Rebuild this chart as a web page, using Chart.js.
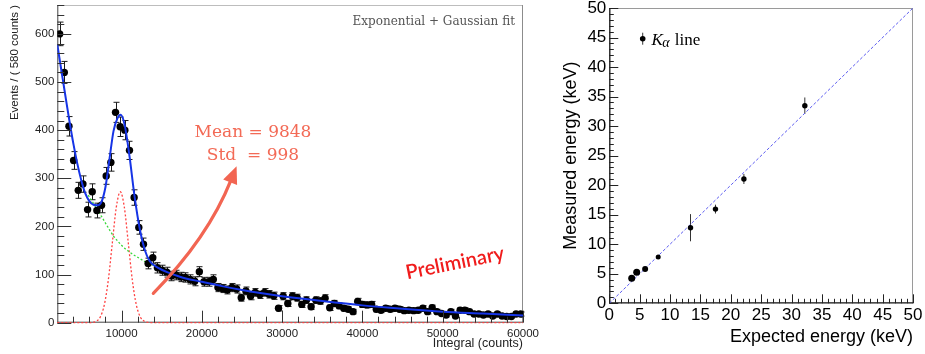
<!DOCTYPE html>
<html>
<head>
<meta charset="utf-8">
<script src="https://cdn.jsdelivr.net/npm/chart.js@4.4.1/dist/chart.umd.min.js"></script>
<style>
  html, body { margin: 0; padding: 0; background: #fff; }
  body { width: 925px; height: 354px; position: relative; overflow: hidden; }
  #spec { position: absolute; left: 0; top: 0; }
  #calib { position: absolute; left: 540px; top: 0; }
</style>
</head>
<body>
<canvas id="spec" width="540" height="354"></canvas>
<canvas id="calib" width="385" height="354"></canvas>
<script>
// ---------- Integral spectrum: 100 bins of 580 counts from 2000 ----------
const binStart = 2000;
const binWidth = 580;
const eventCounts = [
  600, 520, 408, 337, 275, 288, 235, 272, 233, 244,
  305, 333, 437, 407, 400, 358, 260, 198, 163, 123,
  135, 114, 109, 105, 97, 99, 95, 94, 90, 86,
  106, 85, 85, 90, 73, 71, 68, 73, 70, 52,
  66, 55, 63, 58, 63, 59, 56, 30, 55, 40,
  55, 52, 38, 47, 33, 47, 45, 51, 31, 40,
  35, 30, 28, 23, 44, 38, 37, 38, 28, 26,
  30, 28, 30, 28, 25, 26, 25, 26, 30, 23,
  31, 23, 19, 16, 23, 14, 26, 26, 23, 18,
  18, 16, 18, 14, 18, 14, 13, 13, 18, 18
];
const eventErrors = [
  24.5, 22.8, 20.2, 18.4, 16.6, 17.0, 15.3, 16.5, 15.3, 15.6,
  17.5, 18.2, 20.9, 20.2, 20.0, 18.9, 16.1, 14.1, 12.8, 11.1,
  11.6, 10.7, 10.4, 10.2, 9.8, 9.9, 9.7, 9.7, 9.5, 9.3,
  10.3, 9.2, 9.2, 9.5, 8.5, 8.4, 8.2, 8.5, 8.4, 7.2,
  8.1, 7.4, 7.9, 7.6, 7.9, 7.7, 7.5, 5.5, 7.4, 6.3,
  7.4, 7.2, 6.2, 6.9, 5.7, 6.9, 6.7, 7.1, 5.6, 6.3,
  5.9, 5.5, 5.3, 4.8, 6.6, 6.2, 6.1, 6.2, 5.3, 5.1,
  5.5, 5.3, 5.5, 5.3, 5.0, 5.1, 5.0, 5.1, 5.5, 4.8,
  5.6, 4.8, 4.4, 4.0, 4.8, 3.7, 5.1, 5.1, 4.8, 4.2,
  4.2, 4.0, 4.2, 3.7, 4.2, 3.7, 3.6, 3.6, 4.2, 4.2
];

// Total fit (exponential + Gaussian), sampled
const fitX = [2000, 2500, 3000, 3500, 4000, 4500, 5000, 5500, 6000, 6500,
              7000, 7500, 8000, 8500, 9000, 9500, 9900, 10400, 11000, 11600,
              12300, 12900, 13500, 14000, 15000, 16000, 17000, 18000, 20000, 22500,
              25000, 27500, 30000, 35000, 40000, 45000, 50000, 55000, 60000];
const fitTotal = [578, 525, 472, 420, 372, 330, 295, 268, 252, 245,
                  244, 251, 282, 340, 398, 425, 432, 410, 345, 265,
                  192, 151, 128, 120, 110, 103, 97, 92, 85, 76,
                  68, 61, 55, 45, 36, 29, 23, 19, 15];

// Exponential background component
const bkgX = [5850, 6500, 7000, 7500, 8000, 8500, 9000, 9500, 10000, 10500,
              11000, 11500, 12000, 12500, 13000, 13500, 14000, 15000, 16000];
const bkgY = [265, 248, 235, 221, 207, 193, 180, 170, 161, 153,
              147, 141, 136, 131, 126, 122, 119, 110, 103];

// Gaussian signal component (mean 9848, std 998)
const sigMean = 9848;
const sigStd = 998;
const sigX = [2000, 5856, 6355, 6854, 7353, 7852, 8351, 8850, 9349, 9848,
              10347, 10846, 11345, 11844, 12343, 12842, 13341, 13840, 60000];
const sigY = [0, 0.1, 0.6, 3.0, 11.9, 36.8, 88.3, 165, 240, 272,
              240, 165, 88.3, 36.8, 11.9, 3.0, 0.6, 0.1, 0];

const spectrumXTicks = [10000, 20000, 30000, 40000, 50000, 60000];
const spectrumYTicks = [0, 100, 200, 300, 400, 500, 600];

// ---------- Energy calibration: K-alpha lines ----------
const kaExpected = [3.69, 4.51, 5.90, 8.05, 13.37, 17.48, 22.16, 32.19];
const kaMeasured = [4.25, 5.25, 5.80, 7.85, 12.80, 15.95, 21.05, 33.45];
const kaError = [0.3, 0.4, 0.3, 0.3, 2.3, 0.75, 0.85, 1.4];
const kaMarker = [3.5, 3.5, 3.0, 2.5, 2.7, 2.7, 2.7, 2.7];
const energyTicks = [0, 5, 10, 15, 20, 25, 30, 35, 40, 45, 50];

Chart.defaults.font.family = "'Liberation Sans', Arial, sans-serif";

const binCenter = i => binStart + binWidth * (i + 0.5);
const toPoints = (xs, ys) => xs.map((x, i) => ({ x, y: ys[i] }));

function seg(ctx, x1, y1, x2, y2) {
  ctx.beginPath(); ctx.moveTo(x1, y1); ctx.lineTo(x2, y2); ctx.stroke();
}

// Inward ROOT-style tick marks along the left and bottom axes
function drawInwardTicks(chart, o) {
  const { ctx, chartArea: a, scales: { x, y } } = chart;
  ctx.save();
  ctx.strokeStyle = o.color;
  ctx.lineWidth = 1;
  ctx.beginPath();
  for (let v = o.xFrom; v <= x.max + 1e-6; v += o.xMinor) {
    const p = Math.round(x.getPixelForValue(v)) + 0.5;
    const len = o.xMajors.includes(v) ? o.xMajorLen : o.xMinorLen;
    ctx.moveTo(p, a.bottom); ctx.lineTo(p, a.bottom - len);
  }
  for (let v = o.yFrom; v <= y.max + 1e-6; v += o.yMinor) {
    const p = Math.round(y.getPixelForValue(v)) + 0.5;
    const len = o.yMajors.includes(v) ? o.yMajorLen : o.yMinorLen;
    ctx.moveTo(a.left, p); ctx.lineTo(a.left + len, p);
  }
  ctx.stroke();
  ctx.restore();
}

const spectrumDecor = {
  id: 'spectrumDecor',
  beforeDatasetsDraw(chart) {
    const { ctx, chartArea: a, scales: { x, y } } = chart;
    ctx.save();
    ctx.lineWidth = 1;
    ctx.strokeStyle = '#bdbdbd';
    seg(ctx, a.left, a.top + 0.5, a.right, a.top + 0.5);
    ctx.strokeStyle = '#8c8c8c';
    seg(ctx, a.right - 0.5, a.top, a.right - 0.5, a.bottom);
    ctx.strokeStyle = '#444';
    seg(ctx, a.left + 0.5, a.top, a.left + 0.5, a.bottom);
    seg(ctx, a.left, a.bottom - 0.5, a.right, a.bottom - 0.5);

    // Poisson error bars with end caps
    ctx.strokeStyle = '#1a1a1a';
    ctx.beginPath();
    eventCounts.forEach((c, i) => {
      const px = Math.round(x.getPixelForValue(binCenter(i))) + 0.5;
      const t = y.getPixelForValue(c + eventErrors[i]);
      const b = y.getPixelForValue(c - eventErrors[i]);
      ctx.moveTo(px, t); ctx.lineTo(px, b);
      ctx.moveTo(px - 3, t); ctx.lineTo(px + 3, t);
      ctx.moveTo(px - 3, b); ctx.lineTo(px + 3, b);
    });
    ctx.stroke();
    ctx.restore();
  },
  afterDatasetsDraw(chart) {
    const { ctx, scales: { x, y } } = chart;
    drawInwardTicks(chart, {
      color: '#333',
      xFrom: 4000, xMinor: 2000, xMajors: spectrumXTicks, xMajorLen: 12, xMinorLen: 6,
      yFrom: 0, yMinor: 20, yMajors: spectrumYTicks, yMajorLen: 14, yMinorLen: 7
    });

    ctx.save();
    // fit label
    ctx.fillStyle = '#555';
    ctx.font = "12px 'DejaVu Serif', serif";
    ctx.textAlign = 'right';
    ctx.textBaseline = 'middle';
    ctx.fillText('Exponential + Gaussian fit', x.getPixelForValue(59000), y.getPixelForValue(624));

    // Gaussian parameters
    ctx.fillStyle = '#f36a56';
    ctx.font = "17px 'DejaVu Serif', serif";
    ctx.textAlign = 'center';
    ctx.fillText('Mean = ' + sigMean, x.getPixelForValue(26370), y.getPixelForValue(394));
    ctx.fillText('Std  = ' + sigStd, x.getPixelForValue(26370), y.getPixelForValue(348));

    // curved arrow pointing at the parameters
    const sx = x.getPixelForValue(13955), sy = y.getPixelForValue(61);
    const cx = x.getPixelForValue(20730), cy = y.getPixelForValue(175);
    const ex = x.getPixelForValue(23630), ey = y.getPixelForValue(296);
    const tx = x.getPixelForValue(24330), ty = y.getPixelForValue(325);
    ctx.strokeStyle = '#f26552';
    ctx.fillStyle = '#f26552';
    ctx.lineWidth = 3.2;
    ctx.lineCap = 'round';
    ctx.beginPath();
    ctx.moveTo(sx, sy);
    ctx.quadraticCurveTo(cx, cy, ex, ey);
    ctx.stroke();
    const dx = tx - ex, dy = ty - ey, dl = Math.hypot(dx, dy);
    const nx = -dy / dl, ny = dx / dl;
    ctx.beginPath();
    ctx.moveTo(tx, ty);
    ctx.lineTo(ex + nx * 7.5 - dx * 0.15, ey + ny * 7.5 - dy * 0.15);
    ctx.lineTo(ex - nx * 7.5 - dx * 0.15, ey - ny * 7.5 - dy * 0.15);
    ctx.closePath();
    ctx.fill();

    // stamp
    ctx.translate(x.getPixelForValue(51530), y.getPixelForValue(124));
    ctx.rotate(-11.5 * Math.PI / 180);
    ctx.fillStyle = '#f01c1c';
    ctx.font = "600 20px Lato, 'Open Sans', sans-serif";
    ctx.textAlign = 'center';
    ctx.textBaseline = 'middle';
    ctx.fillText('Preliminary', 0, 0);
    ctx.restore();
  }
};

new Chart(document.getElementById('spec'), {
  type: 'scatter',
  data: {
    datasets: [
      {
        label: 'Fit',
        data: toPoints(fitX, fitTotal),
        showLine: true,
        borderColor: '#1634e6',
        borderWidth: 2,
        pointRadius: 0,
        cubicInterpolationMode: 'monotone',
        order: 0
      },
      {
        label: 'Data',
        data: eventCounts.map((c, i) => ({ x: binCenter(i), y: c })),
        pointRadius: 3.7,
        pointBackgroundColor: '#000',
        pointBorderWidth: 0,
        order: 1
      },
      {
        label: 'Background',
        data: toPoints(bkgX, bkgY),
        showLine: true,
        borderColor: '#3ad83a',
        borderWidth: 1.3,
        borderDash: [2, 2],
        pointRadius: 0,
        cubicInterpolationMode: 'monotone',
        order: 2
      },
      {
        label: 'Signal',
        data: toPoints(sigX, sigY),
        showLine: true,
        borderColor: '#ff4040',
        borderWidth: 1.3,
        borderDash: [2, 2],
        pointRadius: 0,
        cubicInterpolationMode: 'monotone',
        clip: 3,
        order: 2
      }
    ]
  },
  options: {
    responsive: false,
    animation: false,
    events: [],
    layout: { padding: { left: 0, top: 5, right: 17, bottom: 0 } },
    plugins: { legend: { display: false }, tooltip: { enabled: false } },
    scales: {
      x: {
        type: 'linear',
        min: 2000,
        max: 60000,
        afterBuildTicks: s => { s.ticks = spectrumXTicks.map(v => ({ value: v })); },
        afterFit: s => { s.height = 31.3; s.paddingLeft = 0; s.paddingRight = 0; },
        grid: { display: false, drawTicks: false },
        border: { display: false },
        ticks: {
          autoSkip: false, maxRotation: 0, padding: 4,
          color: '#222', font: { size: 11.5 },
          callback: v => String(v)
        },
        title: {
          display: true, text: 'Integral (counts)', align: 'end',
          color: '#222', font: { size: 12.5 }, padding: { top: 0, bottom: 2.5 }
        }
      },
      y: {
        type: 'linear',
        min: 0,
        max: 660,
        afterBuildTicks: s => { s.ticks = spectrumYTicks.map(v => ({ value: v })); },
        afterFit: s => { s.width = 57.3; s.paddingTop = 0; s.paddingBottom = 0; },
        grid: { display: false, drawTicks: false },
        border: { display: false },
        ticks: {
          autoSkip: false, padding: 3,
          color: '#222', font: { size: 11.5 },
          callback: v => String(v)
        },
        title: {
          display: true, text: 'Events / ( 580 counts )', align: 'end',
          color: '#222', font: { size: 11.5 }, padding: { top: 8, bottom: 0 }
        }
      }
    }
  },
  plugins: [spectrumDecor]
});

// ---------- Calibration panel ----------
const calibDecor = {
  id: 'calibDecor',
  beforeDatasetsDraw(chart) {
    const { ctx, chartArea: a, scales: { x, y } } = chart;
    ctx.save();
    ctx.lineWidth = 1;
    ctx.strokeStyle = '#9a9a9a';
    seg(ctx, a.left, a.top + 0.5, a.right, a.top + 0.5);
    seg(ctx, a.right - 0.5, a.top, a.right - 0.5, a.bottom);
    ctx.strokeStyle = '#111';
    ctx.lineWidth = 1.3;
    seg(ctx, a.left + 0.5, a.top, a.left + 0.5, a.bottom);
    seg(ctx, a.left, a.bottom - 0.5, a.right, a.bottom - 0.5);

    ctx.lineWidth = 1;
    ctx.strokeStyle = '#333';
    ctx.beginPath();
    kaExpected.forEach((e, i) => {
      const px = x.getPixelForValue(e);
      ctx.moveTo(px, y.getPixelForValue(kaMeasured[i] + kaError[i]));
      ctx.lineTo(px, y.getPixelForValue(kaMeasured[i] - kaError[i]));
    });
    ctx.stroke();
    ctx.restore();
  },
  afterDatasetsDraw(chart) {
    const { ctx, scales: { x, y } } = chart;
    drawInwardTicks(chart, {
      color: '#222',
      xFrom: 0, xMinor: 1, xMajors: energyTicks, xMajorLen: 9, xMinorLen: 4.5,
      yFrom: 0, yMinor: 1, yMajors: energyTicks, yMajorLen: 9, yMinorLen: 4.5
    });

    // legend entry
    ctx.save();
    const mx = x.getPixelForValue(5.5), my = y.getPixelForValue(44.8);
    ctx.strokeStyle = '#333';
    ctx.lineWidth = 1;
    seg(ctx, mx, my - 6, mx, my + 6);
    ctx.fillStyle = '#000';
    ctx.beginPath(); ctx.arc(mx, my, 2.8, 0, Math.PI * 2); ctx.fill();
    let tx = x.getPixelForValue(6.95);
    const base = my + 6.5;
    ctx.textBaseline = 'alphabetic';
    ctx.font = "italic 17px 'Liberation Serif', 'DejaVu Serif', serif";
    ctx.fillText('K', tx, base);
    tx += ctx.measureText('K').width - 0.5;
    ctx.font = "italic 14px 'Liberation Serif', 'DejaVu Serif', serif";
    ctx.fillText('α', tx, base + 2);
    tx += ctx.measureText('α').width + 5;
    ctx.font = "17px 'Liberation Serif', 'DejaVu Serif', serif";
    ctx.fillText('line', tx, base);
    ctx.restore();
  }
};

new Chart(document.getElementById('calib'), {
  type: 'scatter',
  data: {
    datasets: [
      {
        label: 'K-alpha line',
        data: toPoints(kaExpected, kaMeasured),
        pointRadius: kaMarker,
        pointBackgroundColor: '#000',
        pointBorderWidth: 0,
        order: 0
      },
      {
        label: 'Ideal response',
        data: [{ x: 0, y: 0 }, { x: 50, y: 50 }],
        showLine: true,
        borderColor: '#5a5af0',
        borderWidth: 1,
        borderDash: [3, 2],
        pointRadius: 0,
        order: 1
      }
    ]
  },
  options: {
    responsive: false,
    animation: false,
    events: [],
    layout: { padding: { left: 0, top: 8, right: 12, bottom: 0 } },
    plugins: { legend: { display: false }, tooltip: { enabled: false } },
    scales: {
      x: {
        type: 'linear',
        min: 0,
        max: 50,
        afterBuildTicks: s => { s.ticks = energyTicks.map(v => ({ value: v })); },
        afterFit: s => { s.height = 50.7; s.paddingLeft = 0; s.paddingRight = 0; },
        grid: { display: false, drawTicks: false },
        border: { display: false },
        ticks: { autoSkip: false, maxRotation: 0, padding: 1.5, color: '#000', font: { size: 17 } },
        title: {
          display: true, text: 'Expected energy (keV)', align: 'end',
          color: '#000', font: { size: 18 }, padding: { top: 0, bottom: 6.5 }
        }
      },
      y: {
        type: 'linear',
        min: 0,
        max: 50,
        afterBuildTicks: s => { s.ticks = energyTicks.map(v => ({ value: v })); },
        afterFit: s => { s.width = 69.3; s.paddingTop = 0; s.paddingBottom = 0; },
        grid: { display: false, drawTicks: false },
        border: { display: false },
        ticks: { autoSkip: false, padding: 3, color: '#000', font: { size: 17 } },
        title: {
          display: true, text: 'Measured energy (keV)',
          color: '#000', font: { size: 18 }, padding: { top: 20, bottom: 0 }
        }
      }
    }
  },
  plugins: [calibDecor]
});
</script>
</body>
</html>
